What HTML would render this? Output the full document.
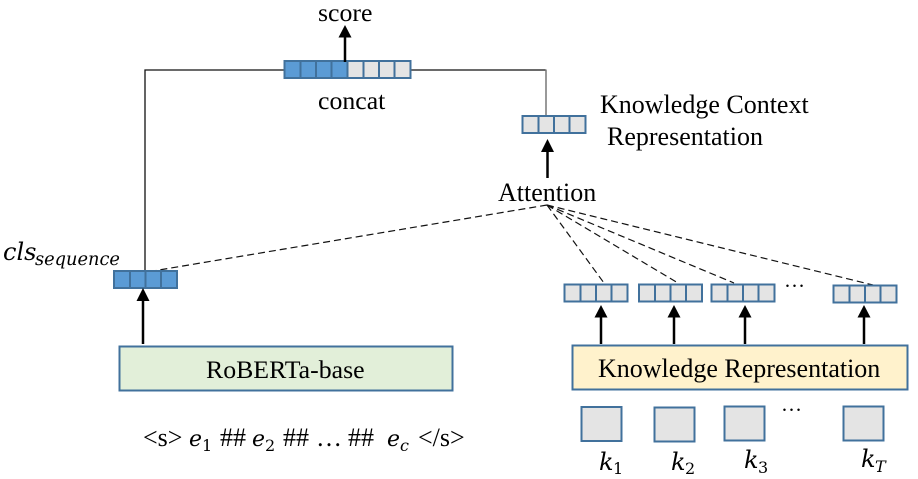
<!DOCTYPE html>
<html><head><meta charset="utf-8"><style>
html,body{margin:0;padding:0;background:#fff;width:918px;height:479px;overflow:hidden}
svg{display:block}
text{font-family:"Liberation Serif",serif;fill:#000}
.m{font-family:"DejaVu Serif","Liberation Serif",serif;font-style:italic}
.n{font-family:"DejaVu Serif","Liberation Serif",serif}
</style></head><body>
<svg width="918" height="479" viewBox="0 0 918 479" xmlns="http://www.w3.org/2000/svg">
<defs>
<g id="g4"><rect x="0" y="0" width="63" height="17" fill="#e4e4e4" stroke="#41719c" stroke-width="2"/><path d="M16 0V17M31.500 0V17M47 0V17" stroke="#41719c" stroke-width="2" fill="none"/></g>
<g id="b4"><rect x="0" y="0" width="63" height="17" fill="#5b9bd5" stroke="#41719c" stroke-width="2"/><path d="M16 0V17M31.500 0V17M47 0V17" stroke="#41719c" stroke-width="2" fill="none"/></g>
</defs>

<path d="M145 270V70H284" fill="none" stroke="#111" stroke-width="1.300"/>
<path d="M411 70H546" fill="none" stroke="#111" stroke-width="1.300"/>
<path d="M546 69.500V115" fill="none" stroke="#777" stroke-width="1.500"/>

<g stroke="#111" stroke-width="1.200" stroke-dasharray="7 4" fill="none">
<path d="M547 205L153 271"/>
<path d="M547 205L604 283"/>
<path d="M547 205L678 283"/>
<path d="M547 205L734 283"/>
<path d="M547 205L873 285"/>
</g>

<use href="#g4" x="347.500" y="61"/>
<use href="#b4" x="284.500" y="61"/>
<use href="#g4" x="522.500" y="116"/>
<use href="#b4" x="114" y="271"/>
<use href="#g4" x="564.500" y="284.500"/>
<use href="#g4" x="639" y="284.500"/>
<use href="#g4" x="711.500" y="284.500"/>
<use href="#g4" x="833.500" y="285.500"/>

<g stroke="#000" stroke-width="2.500" fill="none">
<path d="M345 62V36"/>
<path d="M547.500 178V150"/>
<path d="M143 344V300"/>
<path d="M601 344V316"/>
<path d="M674 344V316"/>
<path d="M745 344V316"/>
<path d="M864 344V316"/>
</g>
<g fill="#000">
<path d="M345 25L351.500 37.500H338.500Z"/>
<path d="M547.500 139L554 152H541Z"/>
<path d="M143 288L149.500 301H136.500Z"/>
<path d="M601 305L607.500 317.500H594.500Z"/>
<path d="M674 305L680.500 317.500H667.500Z"/>
<path d="M745 305L751.500 317.500H738.500Z"/>
<path d="M864 305L870.500 317.500H857.500Z"/>
</g>

<rect x="119.500" y="346.500" width="333" height="44" fill="#e2efd9" stroke="#41719c" stroke-width="2"/>
<rect x="572.500" y="345.500" width="335" height="44" fill="#fff2cc" stroke="#41719c" stroke-width="2"/>

<g fill="#e4e4e4" stroke="#41719c" stroke-width="2">
<rect x="581.500" y="407" width="40" height="34"/>
<rect x="654.500" y="407.500" width="40" height="34"/>
<rect x="724.500" y="406.500" width="40" height="34"/>
<rect x="843.500" y="406.500" width="40" height="34"/>
</g>

<text x="318" y="21" font-size="25.800">score</text>
<text x="318" y="109" font-size="25.800">concat</text>
<text x="600" y="113" font-size="26">Knowledge Context</text>
<text x="607" y="145" font-size="26">Representation</text>
<text x="498" y="201" font-size="26">Attention</text>
<text x="206" y="378" font-size="25.800">RoBERTa-base</text>
<text x="598" y="377" font-size="26">Knowledge Representation</text>
<text x="784" y="287" font-size="21">…</text>
<text x="781" y="411" font-size="21">…</text>

<text class="m" x="3" y="260" font-size="24">cls</text>
<text class="m" x="35" y="265" font-size="17.800">sequence</text>

<text x="143" y="446" font-size="26">&lt;s&gt;</text>
<text class="m" x="189" y="446" font-size="22">e</text>
<text class="n" x="202" y="451" font-size="16">1</text>
<text x="220" y="446" font-size="26">##</text>
<text class="m" x="252" y="446" font-size="22">e</text>
<text class="n" x="265" y="451" font-size="16">2</text>
<text x="283" y="446" font-size="26">##</text>
<text x="316" y="446" font-size="26">…</text>
<text x="348" y="446" font-size="26">##</text>
<text class="m" x="387" y="446" font-size="22">e</text>
<text class="m" x="400" y="451" font-size="16">c</text>
<text x="418" y="446" font-size="26">&lt;/s&gt;</text>

<text class="m" x="599" y="470" font-size="24">k</text>
<text class="n" x="613" y="474" font-size="16">1</text>
<text class="m" x="671" y="470" font-size="24">k</text>
<text class="n" x="685" y="474" font-size="16">2</text>
<text class="m" x="744" y="468" font-size="24">k</text>
<text class="n" x="758" y="473" font-size="16">3</text>
<text class="m" x="861" y="467" font-size="24">k</text>
<text class="m" x="875" y="472" font-size="16">T</text>
</svg>
</body></html>
